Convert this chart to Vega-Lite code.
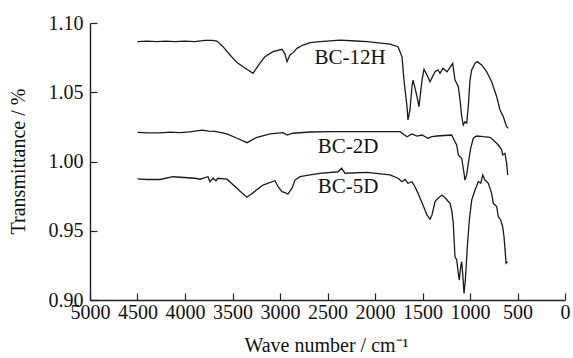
{
  "$schema": "https://vega.github.io/schema/vega-lite/v6.json",
  "width": 475,
  "height": 277,
  "autosize": {"type": "none"},
  "padding": {"left": 90, "top": 23, "right": 8, "bottom": 58},
  "background": "white",
  "config": {
    "view": {"stroke": null},
    "font": "Liberation Serif",
    "axis": {"grid": false, "domainColor": "#222", "domainWidth": 1.4, "tickColor": "#222", "tickWidth": 1.2, "labelColor": "#111", "titleColor": "#111", "labelFont": "Liberation Serif", "titleFont": "Liberation Serif", "labelFontSize": 20, "titleFontSize": 20, "titleFontWeight": "normal"}
  },
  "datasets": {
    "spectra": [
      {"s":"BC-12H","x":4500,"y":1.0866},{"s":"BC-12H","x":4400,"y":1.0869},{"s":"BC-12H","x":4300,"y":1.0865},{"s":"BC-12H","x":4200,"y":1.0869},{"s":"BC-12H","x":4105,"y":1.0866},{"s":"BC-12H","x":4000,"y":1.0869},{"s":"BC-12H","x":3900,"y":1.0866},{"s":"BC-12H","x":3789,"y":1.0874},{"s":"BC-12H","x":3716,"y":1.0875},{"s":"BC-12H","x":3663,"y":1.0870},{"s":"BC-12H","x":3600,"y":1.0829},{"s":"BC-12H","x":3526,"y":1.0769},{"s":"BC-12H","x":3453,"y":1.0714},{"s":"BC-12H","x":3368,"y":1.0675},{"s":"BC-12H","x":3284,"y":1.0637},{"s":"BC-12H","x":3211,"y":1.0711},{"s":"BC-12H","x":3158,"y":1.0757},{"s":"BC-12H","x":3074,"y":1.0793},{"s":"BC-12H","x":2979,"y":1.0810},{"s":"BC-12H","x":2947,"y":1.0776},{"s":"BC-12H","x":2926,"y":1.0721},{"s":"BC-12H","x":2895,"y":1.0769},{"s":"BC-12H","x":2863,"y":1.0786},{"s":"BC-12H","x":2821,"y":1.0817},{"s":"BC-12H","x":2758,"y":1.0841},{"s":"BC-12H","x":2684,"y":1.0858},{"s":"BC-12H","x":2579,"y":1.0865},{"s":"BC-12H","x":2368,"y":1.0877},{"s":"BC-12H","x":2200,"y":1.0870},{"s":"BC-12H","x":2084,"y":1.0865},{"s":"BC-12H","x":1842,"y":1.0848},{"s":"BC-12H","x":1758,"y":1.0829},{"s":"BC-12H","x":1716,"y":1.0757},{"s":"BC-12H","x":1695,"y":1.0588},{"s":"BC-12H","x":1663,"y":1.0396},{"s":"BC-12H","x":1653,"y":1.0300},{"s":"BC-12H","x":1632,"y":1.0372},{"s":"BC-12H","x":1611,"y":1.0540},{"s":"BC-12H","x":1600,"y":1.0588},{"s":"BC-12H","x":1579,"y":1.0531},{"s":"BC-12H","x":1558,"y":1.0468},{"s":"BC-12H","x":1537,"y":1.0396},{"s":"BC-12H","x":1505,"y":1.0588},{"s":"BC-12H","x":1484,"y":1.0666},{"s":"BC-12H","x":1453,"y":1.0625},{"s":"BC-12H","x":1421,"y":1.0576},{"s":"BC-12H","x":1368,"y":1.0648},{"s":"BC-12H","x":1337,"y":1.0661},{"s":"BC-12H","x":1316,"y":1.0637},{"s":"BC-12H","x":1284,"y":1.0673},{"s":"BC-12H","x":1242,"y":1.0648},{"s":"BC-12H","x":1182,"y":1.0709},{"s":"BC-12H","x":1158,"y":1.0588},{"s":"BC-12H","x":1140,"y":1.0565},{"s":"BC-12H","x":1123,"y":1.0540},{"s":"BC-12H","x":1105,"y":1.0444},{"s":"BC-12H","x":1087,"y":1.0323},{"s":"BC-12H","x":1071,"y":1.0263},{"s":"BC-12H","x":1053,"y":1.0287},{"s":"BC-12H","x":1035,"y":1.0276},{"s":"BC-12H","x":1018,"y":1.0396},{"s":"BC-12H","x":1000,"y":1.0588},{"s":"BC-12H","x":982,"y":1.0661},{"s":"BC-12H","x":947,"y":1.0709},{"s":"BC-12H","x":923,"y":1.0721},{"s":"BC-12H","x":877,"y":1.0697},{"s":"BC-12H","x":824,"y":1.0648},{"s":"BC-12H","x":772,"y":1.0576},{"s":"BC-12H","x":719,"y":1.0468},{"s":"BC-12H","x":684,"y":1.0372},{"s":"BC-12H","x":649,"y":1.0323},{"s":"BC-12H","x":632,"y":1.0287},{"s":"BC-12H","x":614,"y":1.0251},{"s":"BC-12H","x":597,"y":1.0239},

      {"s":"BC-2D","x":4500,"y":1.0211},{"s":"BC-2D","x":4400,"y":1.0207},{"s":"BC-2D","x":4263,"y":1.0207},{"s":"BC-2D","x":4150,"y":1.0212},{"s":"BC-2D","x":4053,"y":1.0209},{"s":"BC-2D","x":3950,"y":1.0214},{"s":"BC-2D","x":3821,"y":1.0227},{"s":"BC-2D","x":3750,"y":1.0219},{"s":"BC-2D","x":3684,"y":1.0217},{"s":"BC-2D","x":3558,"y":1.0199},{"s":"BC-2D","x":3453,"y":1.0168},{"s":"BC-2D","x":3347,"y":1.0136},{"s":"BC-2D","x":3242,"y":1.0175},{"s":"BC-2D","x":3105,"y":1.0199},{"s":"BC-2D","x":2968,"y":1.0208},{"s":"BC-2D","x":2926,"y":1.0191},{"s":"BC-2D","x":2863,"y":1.0204},{"s":"BC-2D","x":2684,"y":1.0213},{"s":"BC-2D","x":2442,"y":1.0215},{"s":"BC-2D","x":2053,"y":1.0215},{"s":"BC-2D","x":1737,"y":1.0215},{"s":"BC-2D","x":1663,"y":1.0179},{"s":"BC-2D","x":1611,"y":1.0199},{"s":"BC-2D","x":1558,"y":1.0184},{"s":"BC-2D","x":1505,"y":1.0191},{"s":"BC-2D","x":1442,"y":1.0168},{"s":"BC-2D","x":1400,"y":1.0179},{"s":"BC-2D","x":1347,"y":1.0184},{"s":"BC-2D","x":1193,"y":1.0191},{"s":"BC-2D","x":1158,"y":1.0143},{"s":"BC-2D","x":1140,"y":1.0119},{"s":"BC-2D","x":1123,"y":1.0047},{"s":"BC-2D","x":1087,"y":1.0023},{"s":"BC-2D","x":1063,"y":0.9915},{"s":"BC-2D","x":1053,"y":0.9866},{"s":"BC-2D","x":1035,"y":0.9903},{"s":"BC-2D","x":1018,"y":0.9987},{"s":"BC-2D","x":993,"y":1.0095},{"s":"BC-2D","x":965,"y":1.0168},{"s":"BC-2D","x":929,"y":1.0184},{"s":"BC-2D","x":860,"y":1.0179},{"s":"BC-2D","x":789,"y":1.0175},{"s":"BC-2D","x":755,"y":1.0155},{"s":"BC-2D","x":702,"y":1.0119},{"s":"BC-2D","x":666,"y":1.0083},{"s":"BC-2D","x":656,"y":1.0047},{"s":"BC-2D","x":632,"y":1.0059},{"s":"BC-2D","x":614,"y":0.9987},{"s":"BC-2D","x":603,"y":0.9903},

      {"s":"BC-5D","x":4500,"y":0.9874},{"s":"BC-5D","x":4400,"y":0.9870},{"s":"BC-5D","x":4263,"y":0.9870},{"s":"BC-5D","x":4126,"y":0.9890},{"s":"BC-5D","x":3895,"y":0.9879},{"s":"BC-5D","x":3842,"y":0.9872},{"s":"BC-5D","x":3758,"y":0.9890},{"s":"BC-5D","x":3737,"y":0.9854},{"s":"BC-5D","x":3705,"y":0.9879},{"s":"BC-5D","x":3674,"y":0.9861},{"s":"BC-5D","x":3653,"y":0.9879},{"s":"BC-5D","x":3558,"y":0.9872},{"s":"BC-5D","x":3453,"y":0.9807},{"s":"BC-5D","x":3389,"y":0.9765},{"s":"BC-5D","x":3347,"y":0.9742},{"s":"BC-5D","x":3284,"y":0.9775},{"s":"BC-5D","x":3179,"y":0.9830},{"s":"BC-5D","x":3053,"y":0.9861},{"s":"BC-5D","x":3021,"y":0.9818},{"s":"BC-5D","x":2979,"y":0.9782},{"s":"BC-5D","x":2947,"y":0.9775},{"s":"BC-5D","x":2916,"y":0.9765},{"s":"BC-5D","x":2874,"y":0.9807},{"s":"BC-5D","x":2842,"y":0.9866},{"s":"BC-5D","x":2789,"y":0.9890},{"s":"BC-5D","x":2684,"y":0.9903},{"s":"BC-5D","x":2579,"y":0.9915},{"s":"BC-5D","x":2389,"y":0.9926},{"s":"BC-5D","x":2351,"y":0.9951},{"s":"BC-5D","x":2316,"y":0.9915},{"s":"BC-5D","x":2084,"y":0.9922},{"s":"BC-5D","x":1842,"y":0.9903},{"s":"BC-5D","x":1758,"y":0.9879},{"s":"BC-5D","x":1716,"y":0.9854},{"s":"BC-5D","x":1684,"y":0.9871},{"s":"BC-5D","x":1653,"y":0.9843},{"s":"BC-5D","x":1611,"y":0.9854},{"s":"BC-5D","x":1579,"y":0.9818},{"s":"BC-5D","x":1547,"y":0.9770},{"s":"BC-5D","x":1495,"y":0.9686},{"s":"BC-5D","x":1453,"y":0.9614},{"s":"BC-5D","x":1421,"y":0.9583},{"s":"BC-5D","x":1400,"y":0.9614},{"s":"BC-5D","x":1368,"y":0.9710},{"s":"BC-5D","x":1337,"y":0.9734},{"s":"BC-5D","x":1295,"y":0.9758},{"s":"BC-5D","x":1274,"y":0.9746},{"s":"BC-5D","x":1242,"y":0.9722},{"s":"BC-5D","x":1211,"y":0.9698},{"s":"BC-5D","x":1193,"y":0.9650},{"s":"BC-5D","x":1176,"y":0.9554},{"s":"BC-5D","x":1158,"y":0.9313},{"s":"BC-5D","x":1140,"y":0.9289},{"s":"BC-5D","x":1123,"y":0.9193},{"s":"BC-5D","x":1113,"y":0.9144},{"s":"BC-5D","x":1098,"y":0.9240},{"s":"BC-5D","x":1087,"y":0.9277},{"s":"BC-5D","x":1077,"y":0.9193},{"s":"BC-5D","x":1063,"y":0.9048},{"s":"BC-5D","x":1049,"y":0.9144},{"s":"BC-5D","x":1028,"y":0.9385},{"s":"BC-5D","x":1007,"y":0.9578},{"s":"BC-5D","x":982,"y":0.9722},{"s":"BC-5D","x":947,"y":0.9794},{"s":"BC-5D","x":913,"y":0.9854},{"s":"BC-5D","x":887,"y":0.9843},{"s":"BC-5D","x":866,"y":0.9903},{"s":"BC-5D","x":842,"y":0.9866},{"s":"BC-5D","x":807,"y":0.9843},{"s":"BC-5D","x":772,"y":0.9770},{"s":"BC-5D","x":755,"y":0.9698},{"s":"BC-5D","x":719,"y":0.9674},{"s":"BC-5D","x":702,"y":0.9601},{"s":"BC-5D","x":677,"y":0.9578},{"s":"BC-5D","x":656,"y":0.9529},{"s":"BC-5D","x":642,"y":0.9457},{"s":"BC-5D","x":628,"y":0.9337},{"s":"BC-5D","x":621,"y":0.9265},{"s":"BC-5D","x":603,"y":0.9277}
    ],
    "labels": [
      {"t":"BC-12H","x":2263,"y":1.0747},
      {"t":"BC-2D","x":2284,"y":1.0105},
      {"t":"BC-5D","x":2284,"y":0.9816}
    ]
  },
  "layer": [
    {
      "data": {"name": "spectra"},
      "mark": {"type": "line", "color": "#1a1a1a", "strokeWidth": 1.3, "clip": true},
      "encoding": {
        "x": {"field": "x", "type": "quantitative",
              "scale": {"domain": [0, 5000], "reverse": true, "nice": false},
              "axis": {"values": [0,500,1000,1500,2000,2500,3000,3500,4000,4500,5000], "format": "d", "tickSize": -7, "labelPadding": 9, "labelOverlap": false, "labelFlush": false, "labelBaseline": "top",
                       "title": "Wave number / cm⁻¹", "titleX": 236, "titleY": 45, "titleBaseline": "middle", "titleAnchor": "middle"}},
        "y": {"field": "y", "type": "quantitative",
              "scale": {"domain": [0.9, 1.1], "zero": false, "nice": false},
              "axis": {"values": [0.9,0.95,1.0,1.05,1.1], "format": ".2f", "tickSize": -7, "labelPadding": 14, "labelOverlap": false, "labelFlush": false,
                       "title": "Transmittance / %", "titleX": -72, "titleY": 138, "titleBaseline": "middle", "titleAnchor": "middle", "titleAngle": -90}},
        "detail": {"field": "s"}
      }
    },
    {
      "data": {"name": "labels"},
      "mark": {"type": "text", "font": "Liberation Serif", "fontSize": 21, "color": "#111", "align": "center", "baseline": "middle"},
      "encoding": {
        "x": {"field": "x", "type": "quantitative"},
        "y": {"field": "y", "type": "quantitative"},
        "text": {"field": "t"}
      }
    }
  ]
}
